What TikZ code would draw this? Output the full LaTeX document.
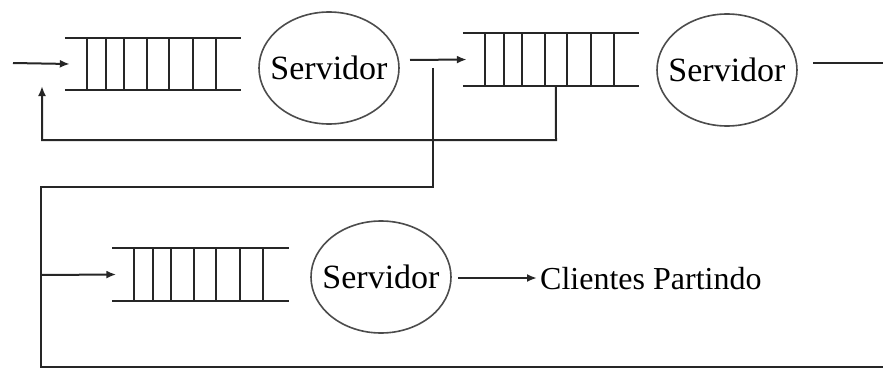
\documentclass[tikz,border=0pt]{standalone}
\usepackage{fontspec}
\setmainfont{Liberation Serif}
\usetikzlibrary{shapes.geometric,arrows.meta}
\tikzset{
  line/.style={line width=2pt, draw=black!85},
  flow/.style={line, -{Latex[length=10pt,width=8pt]}},
  queuebox/.style={rectangle, minimum width=176pt, minimum height=52pt, inner sep=0pt},
  server/.style={ellipse, draw=black!70, line width=1.6pt, minimum width=140pt,
                 minimum height=112pt, inner sep=0pt, font=\fontsize{34}{38}\selectfont},
  label/.style={inner sep=0pt, anchor=west, font=\fontsize{32}{36}\selectfont}
}
% queue: top and bottom rails with seven slots
\newcommand{\drawqueue}[1]{%
  \draw[line] (#1.north west) -- (#1.north east);
  \draw[line] (#1.south west) -- (#1.south east);
  \foreach \dx in {22,41,59,82,104,128,151}
    \draw[line] ([xshift=\dx pt]#1.north west) -- ([xshift=\dx pt]#1.south west);
}
% server text kept narrow so the ellipse keeps its own size
\newcommand{\srvtext}{\makebox[0pt]{Servidor}}
\begin{document}
\begin{tikzpicture}[x=1pt,y=-1pt]
  \useasboundingbox (0,0) rectangle (883,369);

  % first stage
  \node[queuebox] (q1) at (153,64) {};
  \drawqueue{q1}
  \node[server] (s1) at (329,68) {\srvtext};

  % second stage
  \node[queuebox] (q2) at (551,59.5) {};
  \drawqueue{q2}
  \node[server] (s2) at (727,70) {\srvtext};

  % third stage
  \node[queuebox] (q3) at (200.5,274.5) {};
  \drawqueue{q3}
  \node[server] (s3) at (381,277) {\srvtext};
  \node[label] (out) at (540,279) {Clientes Partindo};

  % arrivals
  \coordinate (in1) at (13,63);
  \draw[flow] (in1) -- ([xshift=5pt]q1.west);

  % stage 1 to stage 2
  \coordinate (o1) at (410,60);
  \draw[flow] (o1) -- ([xshift=4pt]q2.west);

  % stage 2 departure
  \coordinate (o2) at (813,63);
  \coordinate (e2) at (883,63);
  \draw[line] (o2) -- (e2);

  % feedback from queue 2 to queue 1 input
  \coordinate (f0) at ([xshift=93pt]q2.south west);
  \coordinate (f1) at (556,140);
  \coordinate (f2) at (42,140);
  \coordinate (f3) at (42,86);
  \draw[flow] (f0) -- (f1) -- (f2) -- (f3);

  % branch to the third stage
  \coordinate (b0) at (433,68);
  \coordinate (b1) at (433,187);
  \coordinate (b2) at (41,187);
  \coordinate (b3) at (41,367);
  \coordinate (b4) at (883,367);
  \draw[line] (b0) -- (b1) -- (b2) -- (b3) -- (b4);
  \coordinate (j3) at (41,275);
  \draw[flow] (j3) -- ([xshift=4pt]q3.west);

  % departures
  \coordinate (o3) at (458,278);
  \draw[flow] (o3) -- ([xshift=-3pt]out.west |- o3);
\end{tikzpicture}
\end{document}
